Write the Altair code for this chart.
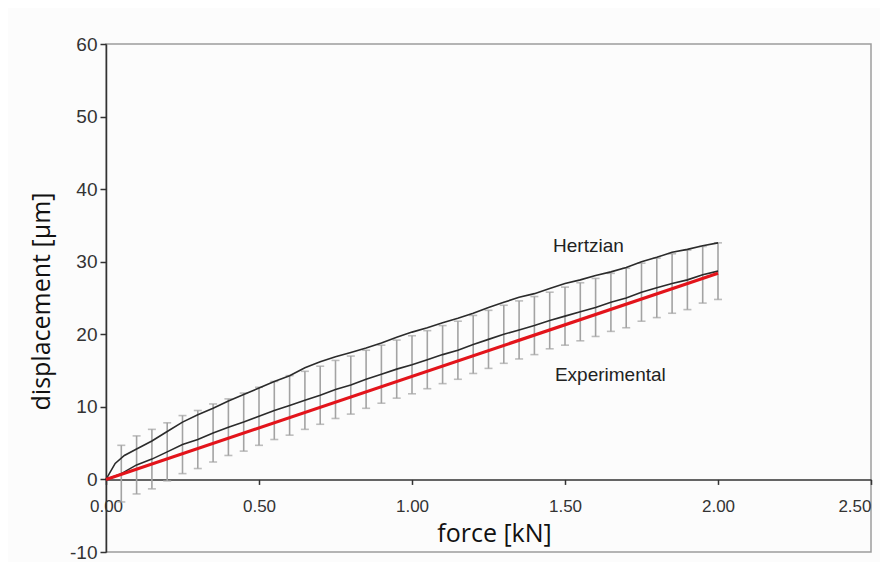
import altair as alt
import pandas as pd

# ---- data ----
exp_force = [0.00, 0.05, 0.10, 0.15, 0.20, 0.25, 0.30, 0.35, 0.40, 0.45, 0.50,
             0.55, 0.60, 0.65, 0.70, 0.75, 0.80, 0.85, 0.90, 0.95, 1.00,
             1.05, 1.10, 1.15, 1.20, 1.25, 1.30, 1.35, 1.40, 1.45, 1.50,
             1.55, 1.60, 1.65, 1.70, 1.75, 1.80, 1.85, 1.90, 1.95, 2.00]
exp_mean = [0.0, 0.8, 2.0, 2.8, 3.8, 4.8, 5.5, 6.4, 7.2, 7.9, 8.7,
            9.5, 10.2, 10.9, 11.6, 12.4, 13.0, 13.8, 14.5, 15.2, 15.8,
            16.5, 17.2, 17.8, 18.6, 19.3, 20.0, 20.6, 21.2, 21.9, 22.5,
            23.1, 23.7, 24.4, 25.0, 25.8, 26.4, 27.0, 27.5, 28.2, 28.7]
# standard deviation shown as error bars (no bar at force 0)
exp_sd = [None, 3.9, 4.0, 4.1, 4.0, 4.0, 4.0, 4.0, 3.9, 4.0, 4.0,
          4.0, 4.1, 4.0, 4.0, 4.0, 4.0, 4.0, 4.0, 4.0, 4.0,
          4.0, 4.0, 4.0, 4.0, 4.0, 4.0, 4.0, 4.0, 3.9, 4.0,
          4.0, 4.0, 4.0, 4.1, 4.0, 4.1, 4.1, 4.1, 3.9, 3.9]

hertz_force = [0.00, 0.03, 0.06, 0.10, 0.15, 0.20, 0.25, 0.30, 0.35, 0.40, 0.45,
               0.50, 0.55, 0.60, 0.65, 0.70, 0.75, 0.80, 0.85, 0.90, 0.95,
               1.00, 1.05, 1.10, 1.15, 1.20, 1.25, 1.30, 1.35, 1.40, 1.45,
               1.50, 1.55, 1.60, 1.65, 1.70, 1.75, 1.80, 1.85, 1.90, 1.95, 2.00]
hertz_disp = [0.0, 2.2, 3.3, 4.2, 5.3, 6.6, 7.9, 8.9, 9.8, 10.8, 11.7,
              12.6, 13.5, 14.3, 15.4, 16.2, 16.9, 17.5, 18.1, 18.8, 19.6,
              20.3, 20.9, 21.6, 22.2, 22.9, 23.7, 24.4, 25.1, 25.6, 26.3,
              27.0, 27.5, 28.1, 28.6, 29.2, 30.0, 30.6, 31.3, 31.7, 32.2, 32.6]

fit_force = [0.00, 2.00]
fit_disp = [0.0, 28.4]

label_text = ["Hertzian", "Experimental"]
label_force = [1.461, 1.467]
label_disp = [31.3, 13.5]

x_ticks = [0.0, 0.5, 1.0, 1.5, 2.0, 2.5]
y_ticks = [-10, 0, 10, 20, 30, 40, 50, 60]

# ---- tables ----
exp_df = pd.DataFrame({"f": exp_force, "d": exp_mean, "sd": exp_sd})
bars_df = exp_df.dropna().copy()
bars_df["lo"] = bars_df["d"] - bars_df["sd"]
bars_df["hi"] = bars_df["d"] + bars_df["sd"]
hertz_df = pd.DataFrame({"f": hertz_force, "d": hertz_disp})
fit_df = pd.DataFrame({"f": fit_force, "d": fit_disp})
lab_df = pd.DataFrame({"t": label_text, "f": label_force, "d": label_disp})

W, H = 765, 508
YMIN, YMAX = -10, 60
zero_offset = -(H * (0 - YMIN) / (YMAX - YMIN))

TICK_FONT = "Liberation Sans"
TITLE_FONT = "Open Sans"

xscale = alt.Scale(domain=[0, 2.5], nice=False, zero=False)
yscale = alt.Scale(domain=[YMIN, YMAX], nice=False, zero=False)

x_axis = alt.Axis(
    values=x_ticks, format=".2f", labelFont=TICK_FONT, labelFontSize=17,
    labelColor="#333333", labelPadding=14, labelFlush=False, labelOverlap=False,
    labelAlign={"condition": {"test": "datum.value >= 2.5", "value": "right"},
                "value": "center"},
    tickSize=5, tickColor="#333333", tickWidth=1.5,
    domainColor="#333333", domainWidth=1.5, grid=False,
    offset=zero_offset,
    title="force [kN]", titleFont=TITLE_FONT, titleFontSize=25,
    titleFontWeight="normal", titleColor="#111111",
    titleX=388, titleY=62, titleBaseline="alphabetic", titleAlign="center",
)
y_axis = alt.Axis(
    values=y_ticks, labelExpr="'' + datum.value", labelFont=TICK_FONT, labelFontSize=19,
    labelColor="#333333", labelPadding=3, labelFlush=False, labelOverlap=False,
    tickSize=6, tickColor="#333333", tickWidth=1.5,
    domainColor="#333333", domainWidth=1.5, grid=False,
    title="displacement [µm]", titleFont=TITLE_FONT, titleFontSize=25,
    titleFontWeight="normal", titleColor="#111111", titleAngle=270,
    titleX=-57, titleY=257, titleBaseline="alphabetic", titleAlign="center",
)

X = alt.X("f:Q", scale=xscale, axis=x_axis)
Y = alt.Y("d:Q", scale=yscale, axis=y_axis)

BAR_COLOR = "#a3a3a3"

err_rule = alt.Chart(bars_df).mark_rule(color=BAR_COLOR, strokeWidth=1.6).encode(
    x=alt.X("f:Q", scale=xscale),
    y=alt.Y("lo:Q", scale=yscale),
    y2="hi:Q",
)
cap_lo = alt.Chart(bars_df).mark_tick(
    color=BAR_COLOR, thickness=1.6, size=8, orient="horizontal"
).encode(x=alt.X("f:Q", scale=xscale), y=alt.Y("lo:Q", scale=yscale))
cap_hi = alt.Chart(bars_df).mark_tick(
    color=BAR_COLOR, thickness=1.6, size=8, orient="horizontal"
).encode(x=alt.X("f:Q", scale=xscale), y=alt.Y("hi:Q", scale=yscale))

exp_line = alt.Chart(exp_df).mark_line(color="#2b2b2b", strokeWidth=1.6).encode(x=X, y=Y)
hertz_line = alt.Chart(hertz_df).mark_line(color="#2b2b2b", strokeWidth=1.6).encode(x=X, y=Y)
fit_line = alt.Chart(fit_df).mark_line(color="#e3141b", strokeWidth=3.2).encode(x=X, y=Y)

labels = alt.Chart(lab_df).mark_text(
    align="left", baseline="alphabetic", font=TICK_FONT, fontSize=19, color="#222222"
).encode(x=alt.X("f:Q", scale=xscale), y=alt.Y("d:Q", scale=yscale), text="t:N")

chart = alt.layer(
    err_rule, cap_lo, cap_hi, exp_line, hertz_line, fit_line, labels
).properties(
    width=W, height=H,
    background="#fcfcfc",
    padding={"left": 98, "top": 36, "right": 9, "bottom": 10},
    autosize=alt.AutoSizeParams(type="none"),
).configure_view(stroke="#9c9c9c", strokeWidth=1.5)

chart.save("out.html", embed_options={"renderer": "svg", "actions": False})
